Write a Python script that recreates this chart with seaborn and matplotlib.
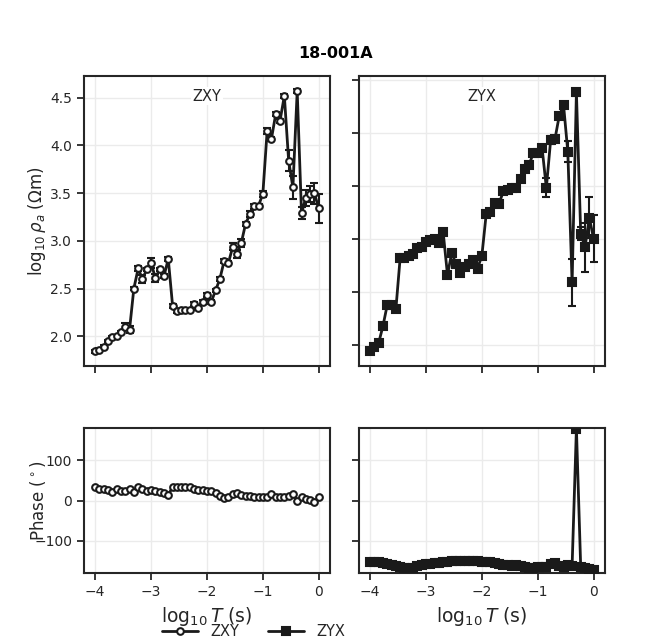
import matplotlib
matplotlib.use("Agg")
import matplotlib.pyplot as plt
import seaborn as sns

# períodos (log10 T) e respostas
log_periodo = [-4.000, -3.923, -3.846, -3.769, -3.692, -3.615, -3.538, -3.462, -3.385, -3.308,
               -3.231, -3.154, -3.077, -3.000, -2.923, -2.846, -2.769, -2.692, -2.615, -2.538,
               -2.462, -2.385, -2.308, -2.231, -2.154, -2.077, -2.000, -1.923, -1.846, -1.769,
               -1.692, -1.615, -1.538, -1.462, -1.385, -1.308, -1.231, -1.154, -1.077, -1.000,
               -0.923, -0.846, -0.769, -0.692, -0.615, -0.538, -0.462, -0.385, -0.308, -0.231,
               -0.154, -0.077, 0.000]

rho_zxy = [1.84, 1.86, 1.89, 1.95, 1.99, 2.00, 2.04, 2.10, 2.07, 2.50,
           2.71, 2.60, 2.70, 2.77, 2.61, 2.70, 2.63, 2.81, 2.32, 2.26,
           2.27, 2.27, 2.27, 2.34, 2.30, 2.36, 2.43, 2.36, 2.48, 2.60,
           2.79, 2.77, 2.94, 2.86, 2.98, 3.18, 3.28, 3.36, 3.37, 3.49,
           4.15, 4.07, 4.33, 4.26, 4.52, 3.84, 3.56, 4.57, 3.29, 3.45,
           3.49, 3.50, 3.34]
err_zxy = [0.015, 0.015, 0.015, 0.015, 0.015, 0.015, 0.015, 0.04, 0.04, 0.02,
           0.03, 0.04, 0.02, 0.05, 0.04, 0.02, 0.02, 0.02, 0.02, 0.015,
           0.015, 0.015, 0.015, 0.02, 0.02, 0.02, 0.02, 0.02, 0.02, 0.02,
           0.02, 0.02, 0.04, 0.04, 0.04, 0.02, 0.03, 0.03, 0.02, 0.03,
           0.03, 0.02, 0.02, 0.02, 0.02, 0.11, 0.12, 0.02, 0.06, 0.08,
           0.08, 0.11, 0.15]

rho_zyx = [1.94, 1.98, 2.02, 2.18, 2.38, 2.38, 2.34, 2.82, 2.82, 2.84,
           2.86, 2.91, 2.92, 2.97, 2.99, 3.00, 2.96, 3.06, 2.66, 2.87,
           2.76, 2.68, 2.73, 2.76, 2.80, 2.72, 2.84, 3.23, 3.25, 3.34,
           3.33, 3.45, 3.46, 3.48, 3.48, 3.56, 3.66, 3.70, 3.81, 3.81,
           3.86, 3.48, 3.93, 3.94, 4.16, 4.26, 3.82, 2.59, 4.38, 3.05,
           2.92, 3.20, 3.00]
err_zyx = [0.015, 0.015, 0.015, 0.015, 0.015, 0.015, 0.015, 0.02, 0.02, 0.02,
           0.02, 0.02, 0.02, 0.02, 0.02, 0.02, 0.02, 0.02, 0.02, 0.02,
           0.02, 0.02, 0.02, 0.02, 0.02, 0.02, 0.02, 0.02, 0.02, 0.02,
           0.02, 0.02, 0.02, 0.02, 0.02, 0.02, 0.02, 0.02, 0.02, 0.02,
           0.02, 0.09, 0.04, 0.03, 0.02, 0.02, 0.10, 0.22, 0.03, 0.06,
           0.23, 0.19, 0.22]

fase_zxy = [33, 30, 29, 26, 21, 29, 25, 25, 29, 21,
            33, 29, 25, 26, 25, 21, 18, 15, 33, 33,
            33, 33, 33, 29, 26, 26, 25, 23, 18, 12,
            7, 10, 16, 18, 15, 12, 12, 10, 10, 10,
            10, 16, 8, 8, 10, 12, 16, 0, 8, 4,
            2, -4, 8]
fase_zyx = [-152, -152, -153, -155, -158, -160, -162, -165, -167, -168,
            -166, -163, -160, -158, -157, -156, -155, -153, -152, -150,
            -150, -149, -149, -150, -151, -151, -152, -152, -153, -155,
            -158, -160, -160, -161, -160, -162, -164, -166, -166, -165,
            -164, -165, -158, -155, -163, -165, -160, -162, 179, -165,
            -166, -170, -173]

cor = "#1a1a1a"

sns.set_theme(style="ticks", rc={
    "axes.grid": True,
    "grid.color": "#ebebeb",
    "grid.linewidth": 1.0,
    "axes.edgecolor": "#262626",
    "axes.linewidth": 1.5,
    "xtick.major.width": 1.3,
    "ytick.major.width": 1.3,
    "xtick.major.size": 5,
    "ytick.major.size": 5,
    "font.size": 10,
    "xtick.labelsize": 10,
    "ytick.labelsize": 10,
    "axes.labelsize": 12,
})
plt.rcParams["font.family"] = ["DejaVu Sans"]


def desenhar(ax, y, err, marcador, face, tamanho):
    """Desenha uma curva com marcadores e, se houver, barras de erro."""
    if err is not None:
        ax.errorbar(log_periodo, y, yerr=err, fmt="none", ecolor=cor,
                    elinewidth=1.5, capsize=3, capthick=1.5, zorder=2)
    sns.lineplot(x=log_periodo, y=y, ax=ax, color=cor, linewidth=2,
                 marker=marcador, markersize=tamanho, markerfacecolor=face,
                 markeredgecolor=cor, markeredgewidth=1.5, zorder=3)
    return ax.get_lines()[-1]


fig, axes = plt.subplots(2, 2, figsize=(6.72, 6.44), dpi=100,
                         gridspec_kw={"height_ratios": [2, 1]})
fig.subplots_adjust(left=0.125, right=0.9, top=0.882, bottom=0.11,
                    wspace=0.118, hspace=0.285)

h_zxy = desenhar(axes[0, 0], rho_zxy, err_zxy, "o", "white", 4.8)
h_zyx = desenhar(axes[0, 1], rho_zyx, err_zyx, "s", cor, 5.4)
desenhar(axes[1, 0], fase_zxy, None, "o", "white", 4.8)
desenhar(axes[1, 1], fase_zyx, None, "s", cor, 5.4)

for ax, nome in zip(axes[0], ["ZXY", "ZYX"]):
    ax.text(0.5, 0.93, nome, transform=ax.transAxes, ha="center", va="center",
            fontsize=10.5, bbox=dict(facecolor="white", edgecolor="none", pad=1))
    ax.tick_params(labelbottom=False)

for ax in axes[1]:
    ax.set_ylim(-180, 180)
    ax.set_yticks([-100, 0, 100])
    ax.set_xlabel(r"$\log_{10}T$ (s)", fontsize=13.5)

for ax in axes.flat:
    ax.set_xticks([-4, -3, -2, -1, 0])
    ax.set_xlim(-4.2, 0.2)

for ax in axes[:, 1]:
    ax.tick_params(labelleft=False)

axes[0, 0].set_yticks([2.0, 2.5, 3.0, 3.5, 4.0, 4.5])
axes[0, 1].set_yticks([2.0, 2.5, 3.0, 3.5, 4.0, 4.5])
axes[0, 0].set_ylabel(r"$\log_{10}\rho_a$ ($\Omega$m)")
axes[1, 0].set_ylabel(r"Phase ($^\circ$)")
axes[0, 0].yaxis.set_label_coords(-0.145, 0.5)
axes[1, 0].yaxis.set_label_coords(-0.145, 0.5)

fig.suptitle("18-001A", fontweight="bold", fontsize=11.5, y=0.928, color="black")
fig.legend([h_zxy, h_zyx], ["ZXY", "ZYX"], loc="center", ncol=2,
           bbox_to_anchor=(0.377, 0.02), frameon=False, fontsize=10.5,
           handlelength=2.5, columnspacing=2.0)

fig.savefig("out.png", dpi=100)
plt.close(fig)
